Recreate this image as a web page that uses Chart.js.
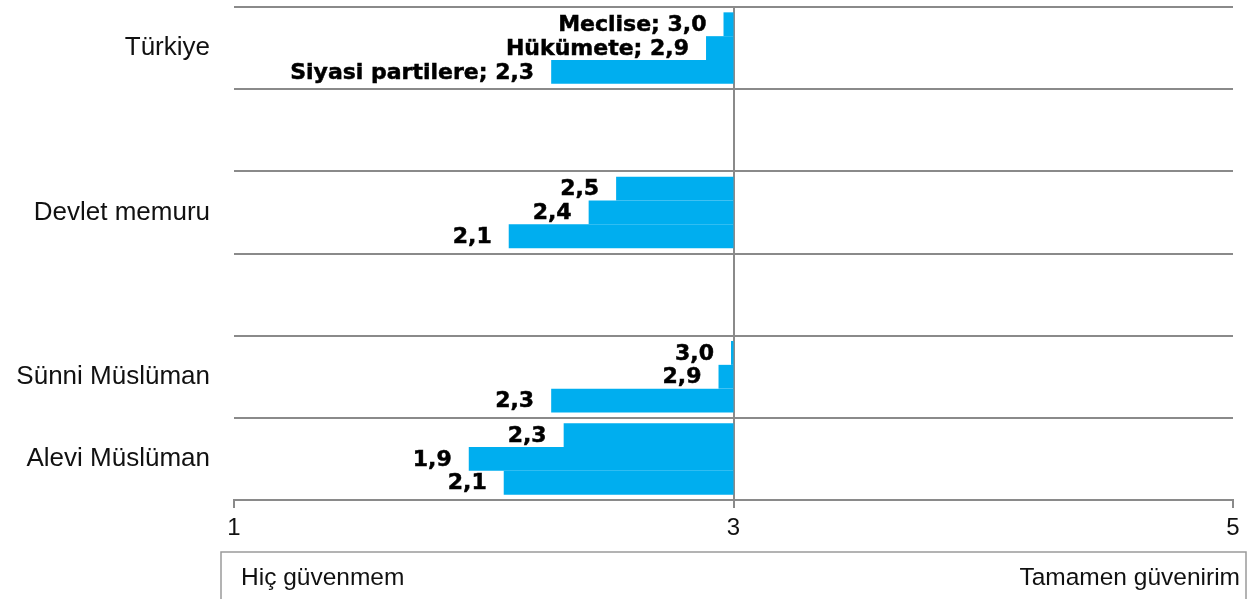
<!DOCTYPE html>
<html>
<head>
<meta charset="utf-8">
<script src="https://cdn.jsdelivr.net/npm/chart.js@4/dist/chart.umd.min.js"></script>
<style>
  html, body { margin: 0; padding: 0; background: #fff; }
  #wrap { position: relative; width: 1251px; height: 599px; }
</style>
</head>
<body>
<div id="wrap"><canvas id="chart" width="1251" height="599"></canvas></div>
<script>
const categories = ['Türkiye', '', 'Devlet memuru', '', 'Sünni Müslüman', 'Alevi Müslüman'];
const seriesNames = ['Meclise', 'Hükümete', 'Siyasi partilere'];
const meclise = [2.96, null, 2.53, null, 2.99, 2.32];
const hukumete = [2.89, null, 2.42, null, 2.94, 1.94];
const siyasiPartilere = [2.27, null, 2.10, null, 2.27, 2.08];
const baseValue = 3;
const xTicks = [1, 3, 5];
const scaleEnds = ['Hiç güvenmem', 'Tamamen güvenirim'];

const barColor = '#00AEEF';
const lineColor = '#8a8a8a';

const toFloating = (arr) => arr.map(v => (v === null ? null : [v, baseValue]));
const fmt = (v) => v.toFixed(1).replace('.', ',');

const seriesValues = [meclise, hukumete, siyasiPartilere];

// labels at the left end of every bar, series name only in the first group
const barLabels = {
  id: 'barLabels',
  afterDatasetsDraw(chart) {
    const ctx = chart.ctx;
    const xScale = chart.scales.x;
    ctx.save();
    ctx.font = 'bold 22px "DejaVu Sans"';
    ctx.fillStyle = '#000';
    ctx.strokeStyle = '#000';
    ctx.lineWidth = 0.5;
    ctx.textAlign = 'right';
    ctx.textBaseline = 'middle';
    chart.data.datasets.forEach((ds, di) => {
      const meta = chart.getDatasetMeta(di);
      seriesValues[di].forEach((v, i) => {
        if (v === null) return;
        const el = meta.data[i];
        const txt = i === 0 ? seriesNames[di] + '; ' + fmt(v) : fmt(v);
        const px = xScale.getPixelForValue(v) - 17;
        ctx.strokeText(txt, px, el.y + 1);
        ctx.fillText(txt, px, el.y + 1);
      });
    });
    ctx.restore();
  }
};

// the scale box under the axis
const scaleBox = {
  id: 'scaleBox',
  afterDraw(chart) {
    const ctx = chart.ctx;
    ctx.save();
    ctx.strokeStyle = '#9a9a9a';
    ctx.lineWidth = 1.5;
    ctx.strokeRect(221, 552, 1025, 60);
    ctx.font = '24.5px "Liberation Sans"';
    ctx.fillStyle = '#111';
    ctx.textBaseline = 'middle';
    ctx.textAlign = 'left';
    ctx.fillText(scaleEnds[0], 241, 578);
    ctx.textAlign = 'right';
    ctx.fillText(scaleEnds[1], 1240, 578);
    ctx.restore();
  }
};

const data = {
  labels: categories,
  datasets: seriesNames.map((name, i) => ({
    label: name,
    data: toFloating(seriesValues[i]),
    backgroundColor: barColor,
    borderWidth: 0,
    categoryPercentage: 0.87,
    barPercentage: 1.0
  }))
};

const options = {
  indexAxis: 'y',
  responsive: false,
  animation: false,
  layout: { padding: { top: 7, right: 18, left: 0, bottom: 0 } },
  plugins: {
    legend: { display: false },
    tooltip: { enabled: false }
  },
  scales: {
    x: {
      type: 'linear',
      min: xTicks[0],
      max: xTicks[xTicks.length - 1],
      afterBuildTicks: (scale) => { scale.ticks = xTicks.map(v => ({ value: v })); },
      afterFit: (scale) => { scale.height = 99; },
      border: { display: true, color: lineColor, width: 2 },
      grid: {
        color: (c) => (c.tick && c.tick.value === baseValue ? lineColor : 'rgba(0,0,0,0)'),
        tickColor: lineColor,
        lineWidth: 2,
        tickLength: 8
      },
      ticks: {
        color: '#111',
        font: { family: 'Liberation Sans', size: 24 },
        padding: 6,
        maxRotation: 0
      }
    },
    y: {
      afterFit: (scale) => {
        scale.width = 234;
        scale.paddingTop = 0;
        scale.paddingBottom = 0;
      },
      border: { display: false },
      grid: {
        color: lineColor,
        lineWidth: 2,
        drawTicks: false,
        offset: true
      },
      ticks: {
        color: '#111',
        font: { family: 'Liberation Sans', size: 26 },
        padding: 24
      }
    }
  }
};

const chartConfig = {
  type: 'bar',
  data: data,
  options: options,
  plugins: [barLabels, scaleBox]
};

new Chart(document.getElementById('chart'), chartConfig);
</script>
</body>
</html>
